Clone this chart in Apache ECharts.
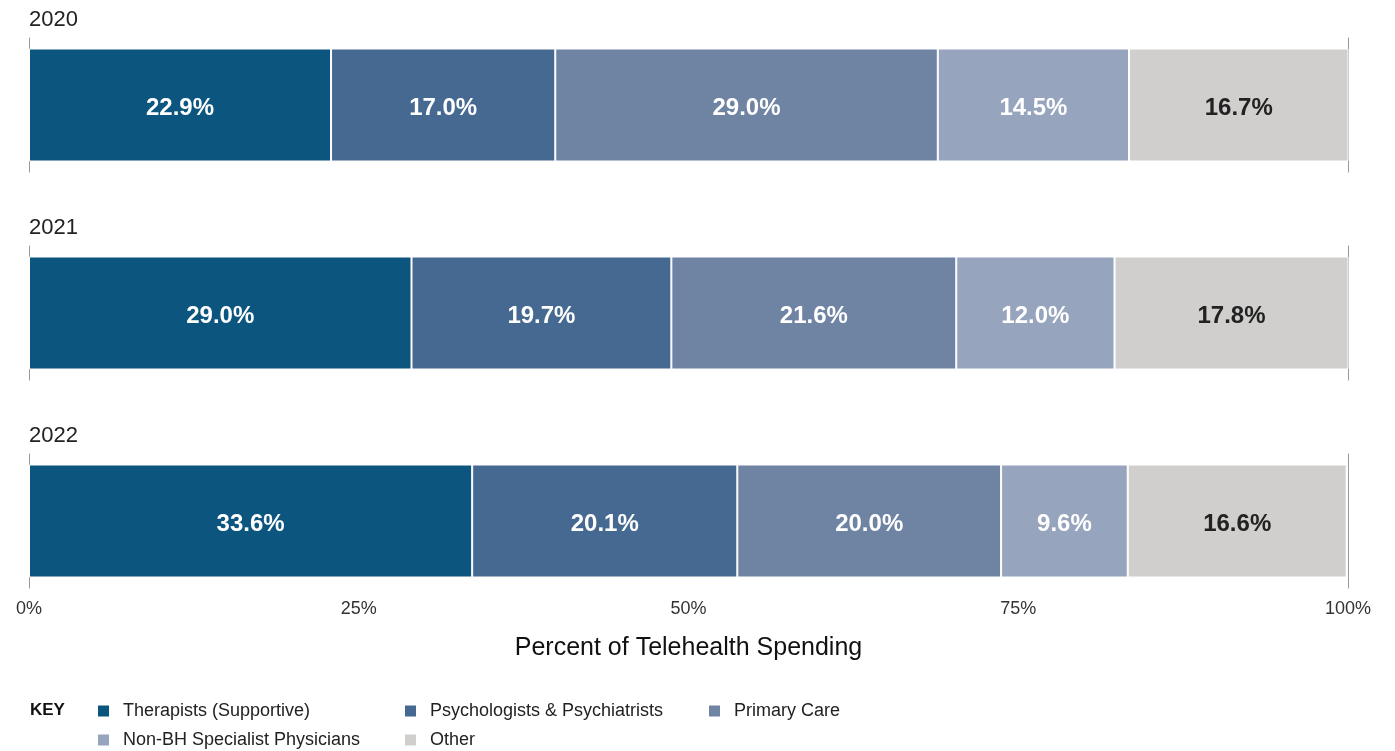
<!DOCTYPE html>
<html>
<head>
<meta charset="utf-8">
<script src="https://cdn.jsdelivr.net/npm/echarts@6/dist/echarts.min.js"></script>
<style>
  html, body { margin: 0; padding: 0; background: #fff; }
  #main { width: 1395px; height: 751px; }
</style>
</head>
<body>
<div id="main"></div>
<script>
// data
var years = ['2020', '2021', '2022'];
var categories = ['Therapists (Supportive)', 'Psychologists & Psychiatrists', 'Primary Care', 'Non-BH Specialist Physicians', 'Other'];
var therapists = [22.9, 29.0, 33.6];
var psychs = [17.0, 19.7, 20.1];
var primaryCare = [29.0, 21.6, 20.0];
var nonBH = [14.5, 12.0, 9.6];
var other = [16.7, 17.8, 16.6];
var xTicks = [0, 25, 50, 75, 100];

var colors = ['#0b557f', '#466991', '#6f83a3', '#96a4bd', '#d0cfcd'];
var labelColors = ['#fff', '#fff', '#fff', '#fff', '#222'];
var allValues = [therapists, psychs, primaryCare, nonBH, other];
var font = 'Liberation Sans, Arial, sans-serif';

var myChart = echarts.init(document.getElementById('main'));

var grids = [], xAxes = [], yAxes = [], series = [], titles = [];
var tops = [38, 246, 454];

years.forEach(function (yr, i) {
	grids.push({ left: 29, right: 47, top: tops[i], height: 134 });
	titles.push({
		text: yr, left: 24, top: tops[i] - 34,
		textStyle: { fontFamily: font, fontSize: 22, fontWeight: 'normal', color: '#222' }
	});
	var last = i === years.length - 1;
	xAxes.push({
		type: 'value', gridIndex: i, min: xTicks[0], max: xTicks[xTicks.length - 1], interval: 25,
		axisLine: { show: false }, axisTick: { show: false }, splitLine: { show: false },
		axisLabel: {
			show: last, formatter: '{value}%', margin: 12,
			fontFamily: font, fontSize: 18, color: '#333'
		},
		name: last ? 'Percent of Telehealth Spending' : '',
		nameLocation: 'middle', nameGap: 48,
		nameTextStyle: { fontFamily: font, fontSize: 25, color: '#111' }
	});
	// left and right lines
	yAxes.push({
		type: 'category', gridIndex: i, data: [yr], position: 'left',
		axisLine: { show: true, lineStyle: { color: '#999', width: 1 } },
		axisTick: { show: false }, axisLabel: { show: false }
	});
	yAxes.push({
		type: 'category', gridIndex: i, data: [yr], position: 'right',
		axisLine: { show: true, lineStyle: { color: '#999', width: 1 } },
		axisTick: { show: false }, axisLabel: { show: false }
	});
	categories.forEach(function (name, k) {
		series.push({
			name: name, type: 'bar', stack: 'row' + i,
			xAxisIndex: i, yAxisIndex: i * 2,
			barWidth: 113,
			data: [allValues[k][i]],
			itemStyle: { color: colors[k], borderColor: '#fff', borderWidth: 1 },
			label: {
				show: true, position: 'inside', offset: [0, 3],
				formatter: function (p) { return p.value.toFixed(1) + '%'; },
				fontFamily: font, fontSize: 24, fontWeight: 'bold', color: labelColors[k]
			}
		});
	});
});

// key laid out in fixed columns, one legend per entry
var legendPos = [[96, 702], [403, 702], [707, 702], [96, 731], [403, 731]];
var legends = categories.map(function (name, k) {
	return {
		data: [name], left: legendPos[k][0], top: legendPos[k][1], padding: 0,
		itemWidth: 13, itemHeight: 13, icon: 'rect', selectedMode: false,
		textStyle: { fontFamily: font, fontSize: 18, color: '#222', padding: [0, 0, 0, 8] }
	};
});

option = {
	animation: false,
	color: colors,
	title: titles,
	grid: grids,
	xAxis: xAxes,
	yAxis: yAxes,
	legend: legends,
	graphic: [{
		type: 'text', left: 30, top: 702,
		style: { text: 'KEY', fontFamily: font, fontSize: 17, fontWeight: 'bold', fill: '#111' }
	}],
	series: series
};
myChart.setOption(option);
</script>
</body>
</html>
